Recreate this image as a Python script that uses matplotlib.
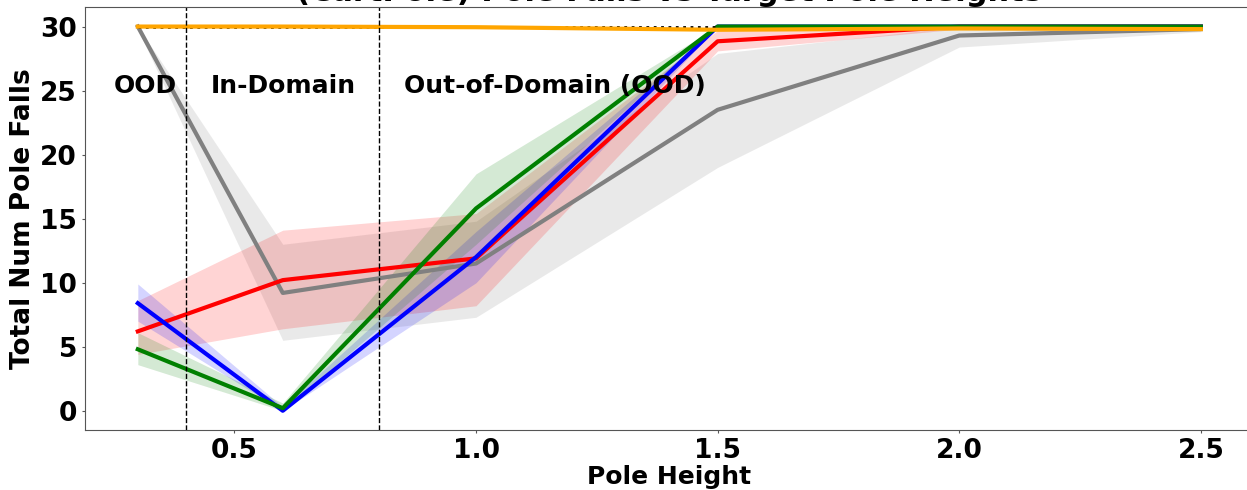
import numpy as np
import matplotlib.pyplot as plt

heights = [0.3, 0.6, 1.0, 1.5, 2.0, 2.5]

gray_mean = [30.0, 9.2, 11.5, 23.5, 29.3, 29.8]
gray_lo = [29.8, 5.5, 7.3, 19.0, 28.4, 29.6]
gray_hi = [30.0, 13.0, 14.8, 27.9, 30.0, 30.0]

red_mean = [6.2, 10.2, 11.9, 28.85, 30.0, 30.0]
red_lo = [4.4, 6.4, 8.2, 28.1, 29.8, 30.0]
red_hi = [8.6, 14.1, 15.4, 29.7, 30.0, 30.0]

blue_mean = [8.4, 0.0, 12.0, 30.0, 30.0, 30.0]
blue_lo = [7.0, 0.0, 10.0, 30.0, 30.0, 30.0]
blue_hi = [9.9, 0.3, 14.0, 30.0, 30.0, 30.0]

green_mean = [4.8, 0.2, 15.8, 30.0, 30.0, 30.0]
green_lo = [3.6, 0.0, 13.0, 30.0, 30.0, 30.0]
green_hi = [6.1, 0.6, 18.5, 30.0, 30.0, 30.0]

orange_mean = [30.0, 30.0, 29.95, 29.75, 29.85, 29.8]

ref_x = [0.3, 0.6, 1.0, 1.5]
ref_y = [30.0, 30.0, 30.0, 30.0]

domain_edges = [0.4, 0.8]
region_labels = ['OOD', 'In-Domain', 'Out-of-Domain (OOD)']
region_x = [0.25, 0.45, 0.85]

fig = plt.figure(figsize=(12.47, 4.9), dpi=100)
ax = fig.add_axes([0.0679, 0.1225, 0.9377, 0.8625])

series = [
    (gray_mean, gray_lo, gray_hi, 'gray'),
    (red_mean, red_lo, red_hi, 'red'),
    (blue_mean, blue_lo, blue_hi, 'blue'),
    (green_mean, green_lo, green_hi, 'green'),
]
for mean, lo, hi, c in series:
    ax.fill_between(heights, lo, hi, color=c, alpha=0.17, lw=0)
    ax.plot(heights, mean, color=c, lw=3)

# reference level (max falls) under the orange curve
ax.plot(ref_x, ref_y, color='black', ls=':', lw=2)
ax.plot(heights, orange_mean, color='orange', lw=3)

for xe in domain_edges:
    ax.axvline(xe, color='black', ls='--', lw=1)

for lab, xl in zip(region_labels, region_x):
    ax.text(xl, 24.8, lab, fontsize=18, fontweight='bold', ha='left', va='baseline')

ax.set_xticks([0.5, 1.0, 1.5, 2.0, 2.5])
ax.set_yticks([0, 5, 10, 15, 20, 25, 30])
ax.tick_params(labelsize=19, length=2.5, pad=3, color='#555555')
for lab in ax.get_xticklabels() + ax.get_yticklabels():
    lab.set_fontweight('bold')
ax.set_xlabel('Pole Height', fontsize=18, fontweight='bold', labelpad=1)
ax.set_ylabel('Total Num Pole Falls', fontsize=19, fontweight='bold', labelpad=3)
ax.set_title('(CartPole) Pole Falls vs Target Pole Heights', fontsize=22,
             fontweight='bold', pad=2)
for s in ax.spines.values():
    s.set_color('#555555')

fig.savefig('out.png', dpi=100)
